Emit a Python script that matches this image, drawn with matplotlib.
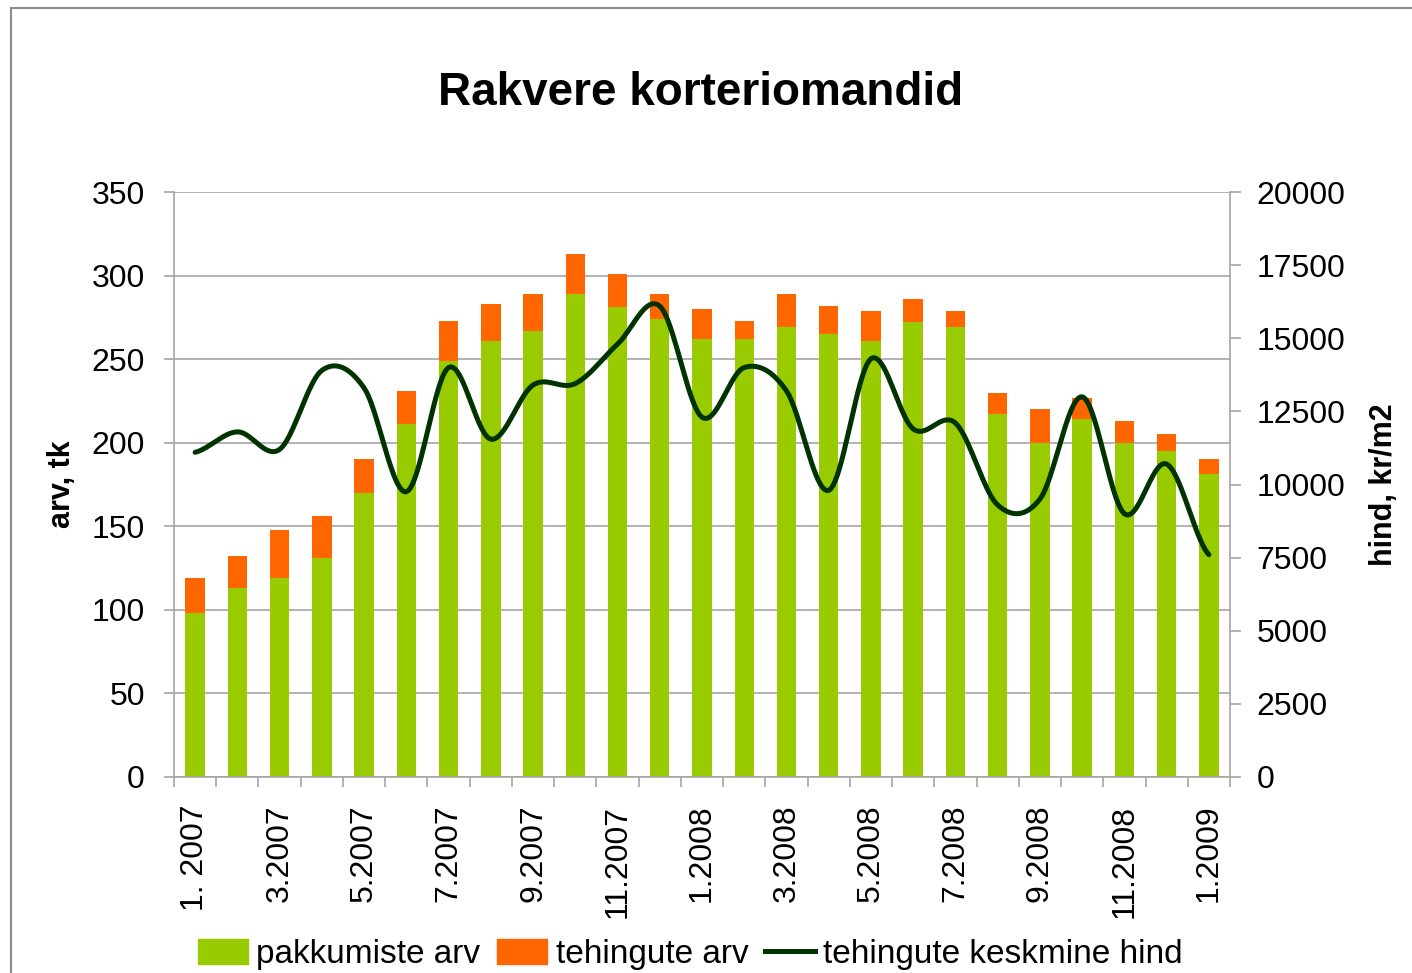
import numpy as np
import matplotlib as mpl
import matplotlib.pyplot as plt
from matplotlib.patches import Patch, Rectangle
from matplotlib.lines import Line2D

# data
months = ['1. 2007', '2.2007', '3.2007', '4.2007', '5.2007', '6.2007', '7.2007', '8.2007',
          '9.2007', '10.2007', '11.2007', '12.2007', '1.2008', '2.2008', '3.2008', '4.2008',
          '5.2008', '6.2008', '7.2008', '8.2008', '9.2008', '10.2008', '11.2008', '12.2008',
          '1.2009']
pakkumiste = [98, 113, 119, 131, 170, 211, 249, 261, 267, 289, 281, 274, 262, 262, 269, 265,
              261, 272, 269, 217, 200, 214, 200, 195, 181]
kokku = [119, 132, 148, 156, 190, 231, 273, 283, 289, 313, 301, 289, 280, 273, 289, 282,
         279, 286, 279, 230, 220, 227, 213, 205, 190]
tehingute = [k - p for k, p in zip(kokku, pakkumiste)]
hind = [11100, 11800, 11200, 13900, 13300, 9750, 14000, 11550, 13400, 13450, 14800, 16100,
        12300, 14000, 13200, 9800, 14300, 11900, 12100, 9300, 9500, 13000, 9000, 10700, 7600]

GREEN = '#99CC00'
ORANGE = '#FF6600'
DARK = '#003300'
GRID = '#a6a6a6'

mpl.rcParams['font.family'] = ['Liberation Sans', 'DejaVu Sans']


def smooth(y, n=20):
    # catmull-rom curve through the points (like excel's smoothed line)
    y = np.asarray(y, dtype=float)
    p = np.concatenate([[y[0]], y, [y[-1]]])
    xs, ys = [], []
    t = np.linspace(0, 1, n, endpoint=False)
    for i in range(len(y) - 1):
        p0, p1, p2, p3 = p[i], p[i + 1], p[i + 2], p[i + 3]
        m1 = (p2 - p0) / 2
        m2 = (p3 - p1) / 2
        h00 = 2 * t**3 - 3 * t**2 + 1
        h10 = t**3 - 2 * t**2 + t
        h01 = -2 * t**3 + 3 * t**2
        h11 = t**3 - t**2
        xs.append(i + t)
        ys.append(h00 * p1 + h10 * m1 + h01 * p2 + h11 * m2)
    xs.append([len(y) - 1])
    ys.append([y[-1]])
    return np.concatenate(xs), np.concatenate(ys)


fig = plt.figure(figsize=(14.12, 9.73), dpi=100)
fig.patches.append(Rectangle((11 / 1412, -0.1), 1.2, 1 - 8 / 973 + 0.1, transform=fig.transFigure,
                             fill=False, edgecolor='#8c8c8c', linewidth=1.5, zorder=0))

ax = fig.add_axes([174 / 1412, 196 / 973, 1056 / 1412, 585 / 973])
x = np.arange(len(months))
ax.bar(x, pakkumiste, 0.46, color=GREEN, zorder=2)
ax.bar(x, tehingute, 0.46, bottom=pakkumiste, color=ORANGE, zorder=2)

ax.set_xlim(-0.5, len(months) - 0.5)
ax.set_ylim(0, 350)
ax.set_yticks(range(0, 351, 50))
ax.grid(axis='y', color=GRID, linewidth=1.2, zorder=0)
ax.set_axisbelow(True)
for s in ['top', 'right']:
    ax.spines[s].set_visible(False)
for s in ['left', 'bottom']:
    ax.spines[s].set_color(GRID)
    ax.spines[s].set_linewidth(1.2)
ax.tick_params(axis='y', length=7, width=1.2, color=GRID, pad=14, labelsize=23)

ax.set_xticks(x[::2])
ax.set_xticklabels(months[::2], rotation=90)
ax.set_xticks(np.arange(-0.5, len(months), 1), minor=True)
ax.tick_params(axis='x', which='major', length=0, pad=20, labelsize=23)
ax.tick_params(axis='x', which='minor', length=7, width=1.2, color=GRID)

ax.set_ylabel('arv, tk', fontsize=22, fontweight='bold')
ax.yaxis.set_label_coords(-0.092, 0.5)

ax2 = ax.twinx()
sx, sy = smooth(hind)
ax2.plot(sx, sy, color=DARK, linewidth=3.6, solid_capstyle='round')
ax2.set_ylim(0, 20000)
ax2.set_yticks(range(0, 20001, 2500))
for s in ['top', 'left', 'bottom']:
    ax2.spines[s].set_visible(False)
ax2.spines['right'].set_color(GRID)
ax2.spines['right'].set_linewidth(1.2)
ax2.tick_params(axis='y', length=8, width=1.2, color=GRID, pad=11, labelsize=23)
ax2.set_ylabel('hind, kr/m2', fontsize=22, fontweight='bold', rotation=90)
ax2.yaxis.set_label_coords(1.132, 0.5)

fig.text(0.496, 1 - 93 / 973, 'Rakvere korteriomandid', fontsize=33, fontweight='bold',
         ha='center', va='center')

handles = [Patch(color=GREEN), Patch(color=ORANGE), Line2D([], [], color=DARK, linewidth=3.6)]
fig.legend(handles, ['pakkumiste arv', 'tehingute arv', 'tehingute keskmine hind'],
           loc='center', bbox_to_anchor=(0.489, 0.019), ncol=3, frameon=False, fontsize=24,
           handlelength=1.5, handleheight=0.75, handletextpad=0.25, columnspacing=0.5,
           borderaxespad=0)

plt.savefig('out.png', dpi=100)
